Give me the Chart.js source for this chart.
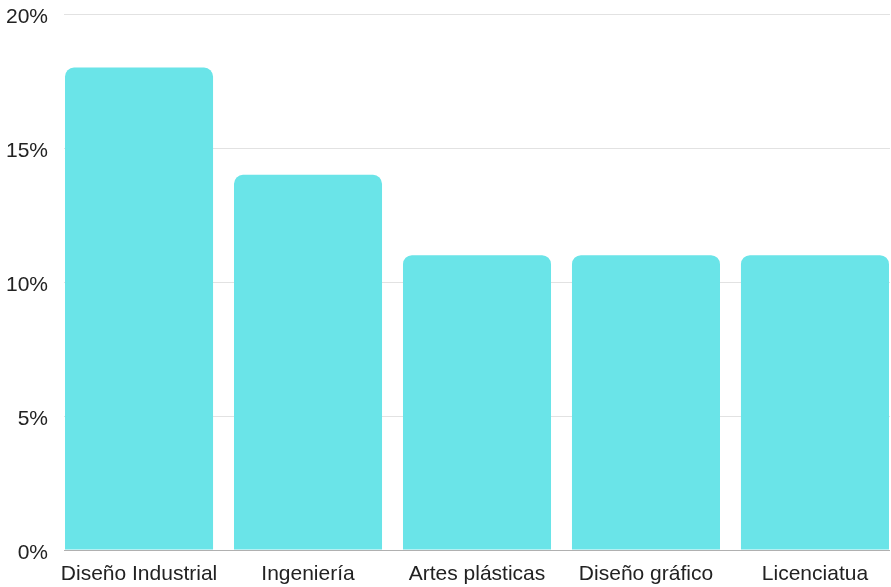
<!DOCTYPE html>
<html>
<head>
<meta charset="utf-8">
<script src="https://cdn.jsdelivr.net/npm/chart.js@4/dist/chart.umd.min.js"></script>
<style>
  html, body { margin: 0; padding: 0; background: #ffffff; }
  #wrap { width: 891px; height: 587px; }
</style>
</head>
<body>
<div id="wrap"><canvas id="c" width="891" height="587"></canvas></div>
<script>
// Share of students by field of study (percent)
const categories = ['Diseño Industrial', 'Ingeniería', 'Artes plásticas', 'Diseño gráfico', 'Licenciatua'];
const shares = [18, 14, 11, 11, 11];
const yTicks = [0, 5, 10, 15, 20];

const points = categories.map((c, i) => ({ x: i, y: shares[i] }));
const FONT = { family: '"Liberation Sans", Arial, sans-serif', size: 21 };

new Chart(document.getElementById('c'), {
  type: 'bar',
  data: {
    datasets: [{
      data: points,
      backgroundColor: '#6ae4e8',
      borderRadius: { topLeft: 9, topRight: 9, bottomLeft: 0, bottomRight: 0 },
      borderSkipped: 'start',
      categoryPercentage: 1,
      barPercentage: 0.876
    }]
  },
  options: {
    responsive: false,
    animation: false,
    layout: { padding: { top: 14, right: 1, left: 6, bottom: 0 } },
    plugins: { legend: { display: false }, tooltip: { enabled: false } },
    scales: {
      x: {
        type: 'linear',
        offset: false,
        min: -0.444,
        max: categories.length - 1 + 0.444,
        grid: { display: false, drawTicks: false },
        border: { display: false },
        afterBuildTicks: axis => { axis.ticks = categories.map((c, i) => ({ value: i })); },
        afterFit: axis => {
          axis.paddingLeft = 0;
          axis.paddingRight = 0;
          axis.height = 37;
        },
        ticks: {
          autoSkip: false,
          maxRotation: 0,
          padding: 12,
          color: '#222222',
          font: FONT,
          callback: v => categories[v]
        }
      },
      y: {
        min: yTicks[0],
        max: yTicks[yTicks.length - 1],
        grid: {
          drawTicks: false,
          color: ctx => ctx.tick && ctx.tick.value === 0 ? '#b0b0b0' : '#e2e2e2',
          lineWidth: 1
        },
        border: { display: false },
        afterBuildTicks: axis => { axis.ticks = yTicks.map(v => ({ value: v })); },
        afterFit: axis => {
          axis.paddingTop = 0;
          axis.paddingBottom = 0;
          axis.width = 58;
        },
        ticks: {
          padding: 16,
          labelOffset: 3,
          color: '#222222',
          font: FONT,
          callback: v => v + '%'
        }
      }
    }
  }
});
</script>
</body>
</html>
